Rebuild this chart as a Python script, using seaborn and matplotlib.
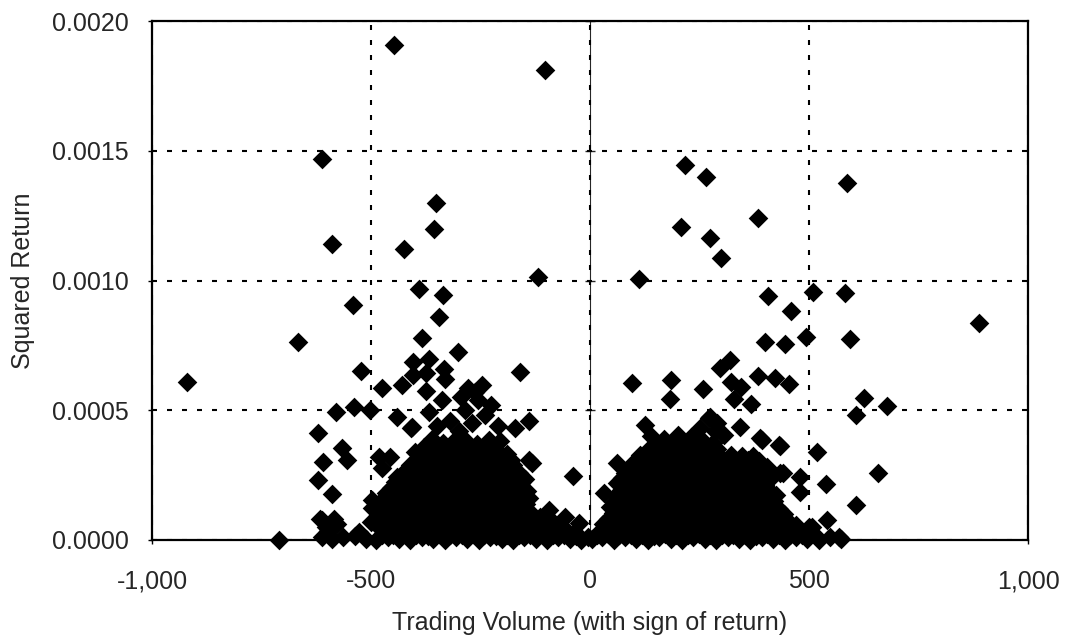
import matplotlib
matplotlib.use("Agg")
import matplotlib.pyplot as plt
import matplotlib.ticker as mticker
import numpy as np
import pandas as pd
import seaborn as sns

# squared returns are typed in units of 1e-4, volume in shares (signed)

# isolated points, negative-return days
neg_out_x = [-448, -103, -613, -352, -357, -590, -425, -119, -391, -336, -542, -345,
             -384, -667, -302, -919, -523, -160, -405, -368, -334, -331, -405, -375,
             -475, -430, -375, -247, -279, -580, -539, -503, -441, -409, -368, -338,
             -139, -171, -622, -567, -555, -610, -622, -590, -39, -133, -149, -711,
             -528, -498, -482, -457, -475, -441, -25, -57]
neg_out_y = [19.08, 18.12, 14.69, 13.0, 12.0, 11.42, 11.2, 10.15, 9.66, 9.46, 9.04, 8.58,
             7.77, 7.62, 7.23, 6.08, 6.5, 6.46, 6.85, 6.96, 6.58, 6.19, 6.35, 6.42,
             5.85, 5.96, 5.73, 5.96, 5.85, 4.92, 5.12, 5.0, 4.73, 4.31, 4.92, 5.38,
             4.58, 4.31, 4.11, 3.54, 3.08, 3.0, 2.31, 1.77, 2.46, 2.96, 2.35, 0.0,
             0.3, 1.54, 3.2, 3.2, 2.77, 2.42, 0.65, 0.9]

# dense block, negative-return days
neg_x = [-612, -590, -565, -537, -512, -488, -462, -436, -410, -384, -358, -332, -306,
         -280, -254, -228, -202, -176, -150, -124, -98, -72, -46, -20, -5,
         -598, -475, -450, -425, -398, -372, -345, -318, -292, -266, -240, -214, -188,
         -162, -136, -110, -84, -60, -35,
         -612, -585, -500, -470, -446, -420, -394, -368, -342, -316, -290, -264, -238,
         -212, -186, -160, -134, -108, -82,
         -498, -472, -446, -420, -394, -368, -342, -316, -290, -264, -238, -212, -186,
         -160, -134, -94,
         -470, -452, -426, -400, -374, -348, -322, -296, -270, -244, -218, -192, -166, -140,
         -455, -430, -404, -378, -352, -326, -300, -274, -248, -222, -196, -170, -145,
         -437, -412, -386, -360, -334, -308, -282, -256, -230, -204, -178, -150,
         -410, -384, -358, -332, -306, -280, -254, -228, -202, -176, -140,
         -400, -372, -346, -320, -294, -268, -242, -216, -190,
         -361, -335, -309, -283, -257, -231, -205,
         -407, -350, -320, -300, -285, -270, -255, -240, -225, -210, -262, -295,
         -617, -603, -578, -595]
neg_y = [0.1, 0.05, 0.1, 0.15, 0.05, 0.0, 0.1, 0.05, 0.0, 0.1, 0.05, 0.0, 0.1,
         0.05, 0.0, 0.1, 0.05, 0.0, 0.1, 0.05, 0.0, 0.1, 0.05, 0.0, 0.1,
         0.35, 0.4, 0.3, 0.35, 0.45, 0.3, 0.4, 0.35, 0.3, 0.45, 0.35, 0.3, 0.4,
         0.35, 0.3, 0.4, 0.3, 0.45, 0.3,
         0.75, 0.8, 0.7, 0.8, 0.7, 0.85, 0.75, 0.7, 0.8, 0.75, 0.85, 0.7, 0.8,
         0.75, 0.7, 0.8, 0.75, 0.7, 0.65,
         1.25, 1.15, 1.1, 1.2, 1.15, 1.25, 1.1, 1.2, 1.15, 1.1, 1.2, 1.15, 1.1,
         1.2, 1.05, 1.15,
         1.5, 1.6, 1.55, 1.65, 1.6, 1.5, 1.65, 1.6, 1.55, 1.65, 1.5, 1.6, 1.55, 1.6,
         2.0, 2.1, 1.95, 2.05, 2.0, 1.95, 2.1, 2.0, 1.95, 2.05, 2.0, 2.1, 1.9,
         2.4, 2.5, 2.45, 2.4, 2.55, 2.45, 2.4, 2.5, 2.45, 2.4, 2.5, 2.35,
         2.9, 2.85, 2.95, 2.9, 2.85, 2.95, 2.9, 2.85, 2.95, 2.9, 3.1,
         3.4, 3.3, 3.4, 3.35, 3.3, 3.45, 3.35, 3.4, 3.3,
         3.9, 3.75, 3.85, 3.8, 3.7, 3.85, 3.8,
         4.35, 4.4, 4.6, 4.2, 5.0, 4.5, 5.4, 4.8, 5.2, 4.4, 5.7, 5.5,
         0.8, 0.5, 0.6, 0.2]

# in-between days filling the negative block
neg_fill_x = [-475, -449, -423, -397, -371, -345, -319, -293, -267, -241, -215, -189,
              -163, -137, -111, -85, -59, -33,
              -487, -459, -433, -407, -381, -355, -329, -303, -277, -251, -225, -199,
              -173, -147, -121, -95, -70,
              -485, -459, -433, -407, -381, -355, -329, -303, -277, -251, -225, -199,
              -173, -147, -115,
              -485, -459, -433, -407, -381, -355, -329, -303, -277, -251, -225, -199,
              -173, -147,
              -465, -441, -415, -389, -363, -337, -311, -285, -259, -233, -207, -181, -155,
              -446, -417, -391, -365, -339, -313, -287, -261, -235, -209, -183, -158,
              -423, -397, -371, -345, -319, -293, -267, -241, -215, -189, -163,
              -392, -359, -333, -307, -281, -255, -229, -203, -180,
              -380, -348, -322, -296, -270, -244, -218]
neg_fill_y = [0.2, 0.18, 0.22, 0.2, 0.17, 0.22, 0.2, 0.18, 0.23, 0.2, 0.17, 0.21,
              0.2, 0.18, 0.22, 0.2, 0.19, 0.15,
              0.57, 0.6, 0.55, 0.58, 0.62, 0.55, 0.57, 0.6, 0.54, 0.58, 0.61, 0.56,
              0.57, 0.6, 0.55, 0.52, 0.5,
              0.97, 1.0, 0.95, 0.98, 0.94, 1.0, 0.97, 0.95, 1.01, 0.96, 0.98, 0.94,
              0.97, 1.0, 0.9,
              1.37, 1.4, 1.35, 1.38, 1.33, 1.4, 1.37, 1.34, 1.4, 1.36, 1.38, 1.35,
              1.37, 1.4,
              1.8, 1.83, 1.78, 1.82, 1.8, 1.77, 1.83, 1.8, 1.78, 1.82, 1.8, 1.84, 1.76,
              2.22, 2.25, 2.2, 2.23, 2.19, 2.25, 2.22, 2.2, 2.24, 2.21, 2.23, 2.18,
              2.67, 2.7, 2.65, 2.68, 2.64, 2.7, 2.67, 2.65, 2.69, 2.66, 2.6,
              3.12, 3.15, 3.1, 3.14, 3.11, 3.15, 3.12, 3.1, 3.08,
              3.57, 3.6, 3.55, 3.58, 3.54, 3.6, 3.56]

# isolated points, positive-return days
pos_out_x = [217, 265, 587, 384, 208, 274, 300, 112, 407, 510, 583, 459, 889, 400,
             446, 494, 594, 297, 320, 96, 185, 258, 384, 423, 455, 322, 345, 183,
             329, 368, 626, 677, 608, 274, 126, 343, 389, 434, 519, 658, 434, 480,
             480, 539, 608, 542, 507, 569, 62, 32]
pos_out_y = [14.46, 14.0, 13.77, 12.42, 12.08, 11.62, 10.88, 10.04, 9.42, 9.54, 9.5, 8.81,
             8.35, 7.62, 7.54, 7.81, 7.73, 6.62, 6.92, 6.04, 6.15, 5.81, 6.31, 6.23,
             6.0, 6.08, 5.88, 5.42, 5.42, 5.23, 5.46, 5.15, 4.81, 4.73, 4.42, 4.35,
             3.92, 3.62, 3.38, 2.58, 2.58, 2.42, 1.85, 2.15, 1.35, 0.77, 0.5, 0.1,
             2.96, 1.81]

# dense block, positive-return days
pos_x = [5, 28, 54, 80, 106, 132, 158, 184, 210, 236, 262, 288, 314, 340, 366, 392,
         418, 444, 470, 496, 522, 548, 572,
         22, 48, 74, 100, 126, 152, 178, 204, 230, 256, 282, 308, 334, 360, 386, 412,
         438, 462, 500,
         40, 66, 92, 118, 144, 170, 196, 222, 248, 274, 300, 326, 352, 378, 404, 430, 455,
         45, 70, 96, 122, 148, 174, 200, 226, 252, 278, 304, 330, 356, 382, 408, 432,
         60, 86, 112, 138, 164, 190, 216, 242, 268, 294, 320, 346, 372, 398, 424,
         62, 88, 114, 140, 166, 192, 218, 244, 270, 296, 322, 348, 374, 400, 440,
         80, 106, 132, 158, 184, 210, 236, 262, 288, 314, 340, 366, 392, 418,
         100, 126, 152, 178, 204, 230, 256, 282, 308, 334, 360, 386,
         135, 150, 161, 187, 213, 239, 265, 290,
         140, 170, 200, 230, 255, 285,
         272, 250, 290, 305, 393, 432]
pos_y = [0.05, 0.1, 0.0, 0.1, 0.05, 0.0, 0.1, 0.05, 0.0, 0.1, 0.05, 0.0, 0.1, 0.05, 0.0, 0.1,
         0.05, 0.0, 0.1, 0.05, 0.0, 0.1, 0.05,
         0.35, 0.45, 0.3, 0.4, 0.35, 0.45, 0.3, 0.4, 0.35, 0.45, 0.3, 0.4, 0.35, 0.45, 0.3, 0.4,
         0.35, 0.45, 0.5,
         0.8, 0.75, 0.85, 0.8, 0.7, 0.85, 0.8, 0.75, 0.85, 0.8, 0.7, 0.85, 0.8, 0.75, 0.85, 0.8, 0.7,
         1.27, 1.2, 1.3, 1.25, 1.15, 1.3, 1.25, 1.2, 1.3, 1.25, 1.15, 1.3, 1.25, 1.2, 1.3, 1.2,
         1.7, 1.65, 1.75, 1.7, 1.6, 1.75, 1.7, 1.65, 1.75, 1.7, 1.6, 1.75, 1.7, 1.65, 1.75,
         2.2, 2.1, 2.2, 2.15, 2.05, 2.2, 2.15, 2.1, 2.2, 2.15, 2.05, 2.2, 2.15, 2.1, 2.58,
         2.6, 2.55, 2.65, 2.6, 2.5, 2.65, 2.6, 2.55, 2.65, 2.6, 2.5, 2.65, 2.6, 2.55,
         3.0, 3.1, 3.05, 2.95, 3.1, 3.05, 3.0, 3.1, 3.05, 2.95, 3.1, 3.05,
         3.5, 3.6, 3.45, 3.55, 3.5, 3.4, 3.55, 3.5,
         4.0, 3.9, 4.05, 3.95, 3.85, 4.2,
         4.7, 4.3, 4.5, 4.05, 3.85, 3.65]

# in-between days filling the positive block
pos_fill_x = [15, 41, 67, 93, 119, 145, 171, 197, 223, 249, 275, 301, 327, 353, 379,
              405, 431, 457, 483, 515,
              30, 57, 83, 109, 135, 161, 187, 213, 239, 265, 291, 317, 343, 369, 395,
              421, 447, 470,
              52, 79, 105, 131, 157, 183, 209, 235, 261, 287, 313, 339, 365, 391, 417, 443,
              55, 83, 109, 135, 161, 187, 213, 239, 265, 291, 317, 343, 369, 395, 420,
              70, 99, 125, 151, 177, 203, 229, 255, 281, 307, 333, 359, 385, 411,
              72, 101, 127, 153, 179, 205, 231, 257, 283, 309, 335, 361, 387, 410,
              93, 119, 145, 171, 197, 223, 249, 275, 301, 327, 353, 379, 403,
              115, 139, 165, 191, 217, 243, 269, 295, 321, 347, 372,
              150, 176, 202, 228, 254, 280]
pos_fill_y = [0.2, 0.22, 0.18, 0.21, 0.2, 0.17, 0.22, 0.2, 0.19, 0.23, 0.2, 0.18, 0.21,
              0.2, 0.17, 0.22, 0.2, 0.19, 0.2, 0.15,
              0.6, 0.57, 0.62, 0.58, 0.55, 0.61, 0.6, 0.56, 0.62, 0.58, 0.55, 0.6, 0.57,
              0.62, 0.58, 0.55, 0.6, 0.57,
              1.02, 1.0, 1.05, 1.01, 0.98, 1.04, 1.02, 0.99, 1.05, 1.01, 0.98, 1.03, 1.02,
              0.99, 1.04, 1.0,
              1.47, 1.45, 1.5, 1.46, 1.43, 1.49, 1.47, 1.44, 1.5, 1.46, 1.43, 1.48, 1.47,
              1.44, 1.49,
              1.92, 1.9, 1.95, 1.91, 1.88, 1.94, 1.92, 1.89, 1.95, 1.91, 1.88, 1.93, 1.92,
              1.89,
              2.37, 2.35, 2.4, 2.36, 2.33, 2.39, 2.37, 2.34, 2.4, 2.36, 2.33, 2.38, 2.37,
              2.34,
              2.82, 2.8, 2.85, 2.81, 2.78, 2.84, 2.82, 2.79, 2.85, 2.81, 2.78, 2.83, 2.8,
              3.27, 3.25, 3.3, 3.26, 3.23, 3.29, 3.27, 3.24, 3.28, 3.25, 3.22,
              3.72, 3.7, 3.75, 3.71, 3.68, 3.74]

volume = neg_out_x + neg_x + neg_fill_x + pos_out_x + pos_x + pos_fill_x
sq_ret = np.array(neg_out_y + neg_y + neg_fill_y + pos_out_y + pos_y + pos_fill_y) * 1e-4
df = pd.DataFrame({"volume": volume, "sq_return": sq_ret})

sns.set_style("white")
plt.rcParams["font.family"] = ["Liberation Sans", "DejaVu Sans"]
plt.rcParams["axes.unicode_minus"] = False

fig, ax = plt.subplots(figsize=(10.69, 6.39), dpi=100)
fig.subplots_adjust(left=0.1422, right=0.9617, top=0.967, bottom=0.155)

sns.scatterplot(data=df, x="volume", y="sq_return", marker="D", s=100,
                color="black", linewidth=0, clip_on=False, zorder=5, ax=ax)

ax.set_xlim(-1000, 1000)
ax.set_ylim(0, 0.002)
ax.xaxis.set_major_locator(mticker.MultipleLocator(500))
ax.yaxis.set_major_locator(mticker.MultipleLocator(0.0005))
ax.xaxis.set_major_formatter(mticker.StrMethodFormatter("{x:,.0f}"))
ax.yaxis.set_major_formatter(mticker.StrMethodFormatter("{x:.4f}"))

# dotted grid like the old spreadsheet chart
ax.grid(True, color="black", linewidth=1.5, linestyle=(0, (2.4, 4.8)))
ax.set_axisbelow(True)

# value axis crosses at zero volume
mid = ax.secondary_yaxis(0.5)
mid.yaxis.set_major_locator(mticker.MultipleLocator(0.0005))
mid.set_yticklabels([])
mid.tick_params(direction="inout", length=7, width=1)
mid.spines["left"].set_linewidth(1)

for sp in ax.spines.values():
    sp.set_color("black")
    sp.set_linewidth(1.6)

ax.tick_params(axis="both", which="major", labelsize=18, length=3, width=1,
               color="black", direction="out", bottom=True, left=True)
ax.tick_params(axis="x", pad=18)
ax.tick_params(axis="y", pad=14)

ax.set_xlabel("Trading Volume (with sign of return)", fontsize=18, labelpad=13)
ax.set_ylabel("Squared Return", fontsize=18, labelpad=12)

fig.savefig("out.png", dpi=100)
